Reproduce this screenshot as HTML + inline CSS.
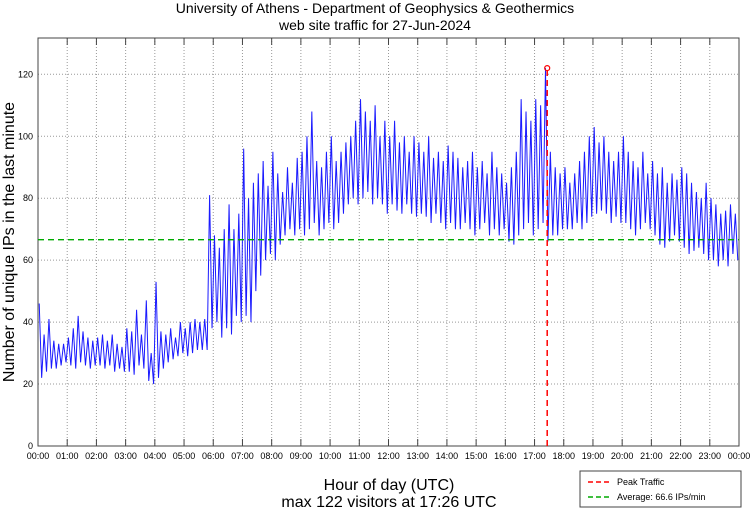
<!DOCTYPE html>
<html><head><meta charset="utf-8"><style>
body{margin:0;background:#fff;}
svg{display:block;font-family:"Liberation Sans",sans-serif;}
</style></head><body>
<svg id="chart" width="750" height="511">
<text x="375" y="13" text-anchor="middle" font-size="14">University of Athens - Department of Geophysics &amp; Geothermics</text>
<text x="375" y="30" text-anchor="middle" font-size="14">web site traffic for 27-Jun-2024</text>
<text transform="translate(14,242) rotate(-90)" text-anchor="middle" font-size="16">Number of unique IPs in the last minute</text>
<text x="389" y="490" text-anchor="middle" font-size="16">Hour of day (UTC)</text>
<text x="389" y="507" text-anchor="middle" font-size="16">max 122 visitors at 17:26 UTC</text>
<g id="grid"></g><g id="plot"></g>
<g>
<rect x="580" y="471" width="161" height="36" fill="#fff" stroke="#444" stroke-width="1"/>
<line x1="588" y1="482" x2="612" y2="482" stroke="#f00" stroke-width="1.5" stroke-dasharray="5,3"/>
<text x="617" y="485" font-size="9">Peak Traffic</text>
<line x1="588" y1="497" x2="612" y2="497" stroke="#0a0" stroke-width="1.5" stroke-dasharray="5,3"/>
<text x="617" y="500" font-size="9">Average: 66.6 IPs/min</text>
</g>
</svg>
<script>
const hiVals=[46,36,41,34,33,33, 35,38,42,37,35,34, 35,36,34,36,33,32, 38,37,44,36,47,30, 53,37,36,38,35,40, 38,40,41,40,41,81,
68,64,70,78,70,75, 96,80,85,88,92,84, 95,88,82,90,85,93, 95,100,108,92,90,95, 100,92,95,98,100,105, 112,108,105,110,100,105,
100,105,98,100,95,100, 98,95,100,93,95,92, 97,95,93,90,92,95, 90,92,88,95,90,88, 85,90,95,112,108,105, 112,110,122,95,90,88,
90,85,88,92,95,100, 103,98,100,95,92,95, 100,95,92,90,95,88, 92,88,90,85,88,86, 90,88,85,82,80,85, 80,78,75,76,78,75];
const loVals=[22,24,25,25,26,27, 26,25,27,26,25,26, 26,25,26,24,25,24, 24,23,26,25,21,20, 22,25,27,28,29,30, 29,30,31,31,31,38,
40,35,38,36,42,40, 42,40,50,55,60,62, 60,65,68,70,68,70, 68,70,72,68,70,72, 70,72,75,78,80,78, 80,82,78,80,78,75,
78,76,75,78,75,74, 75,74,72,75,72,70, 72,70,70,72,70,68, 70,72,68,70,68,70, 66,65,68,70,72,68, 70,72,66,68,68,70,
70,70,72,70,72,74, 75,76,75,72,74,72, 72,70,68,70,72,70, 68,65,64,66,68,66, 64,62,63,64,62,60, 60,58,60,58,62,60];
const yTicks=[0,20,40,60,80,100,120];
const xTickLabels=["00:00","01:00","02:00","03:00","04:00","05:00","06:00","07:00","08:00","09:00","10:00","11:00","12:00","13:00","14:00","15:00","16:00","17:00","18:00","19:00","20:00","21:00","22:00","23:00","00:00"];
const peakMinute=17*60+26, peakValue=122, avgValue=66.6;
const L=38,R=739,T=38,B=446;
const x=m=>L+(R-L)*m/1440;
const y=v=>B-(B-74.3)*v/120;
const NS="http://www.w3.org/2000/svg";
function mk(tag,attrs,parent){const e=document.createElementNS(NS,tag);for(const k in attrs)e.setAttribute(k,attrs[k]);parent.appendChild(e);return e;}
const grid=document.getElementById('grid'),plot=document.getElementById('plot');
yTicks.forEach(v=>{
  if(v>0){const g=mk('line',{x1:L,x2:R,y1:y(v),y2:y(v),stroke:'#999','stroke-dasharray':'1,2'},grid);
  
  }
  const t=mk('text',{x:L-5,y:y(v)+3,'text-anchor':'end','font-size':9},grid);t.textContent=v;
  
  
});
xTickLabels.forEach((lab,i)=>{
  const xx=x(i*60);
  if(i>0&&i<24){const g=mk('line',{x1:xx,x2:xx,y1:T,y2:B,stroke:'#999','stroke-dasharray':'1,2'},grid);
  
  
  mk('line',{x1:xx,x2:xx,y1:T,y2:T+7,stroke:'#444'},grid);mk('line',{x1:xx,x2:xx,y1:B,y2:B-7,stroke:'#444'},grid);}
  const t=mk('text',{x:xx,y:B+13,'text-anchor':'middle','font-size':9},grid);t.textContent=lab;
  
  
});
const frame=mk('rect',{x:L,y:T,width:R-L,height:B-T,fill:'none',stroke:'#444'},grid);


let pts=[];
hiVals.forEach((h,i)=>{pts.push(x(i*10+2.5)+','+y(h));pts.push(x(i*10+7.5)+','+y(loVals[i]));});
const line=mk('polyline',{points:pts.join(' '),fill:'none',stroke:'#1a1aff','stroke-width':1},plot);


const avg=mk('line',{x1:L,x2:R,y1:y(avgValue),y2:y(avgValue),stroke:'#0a0','stroke-width':1.3,'stroke-dasharray':'6,4'},plot);


const pk=mk('line',{x1:x(peakMinute),x2:x(peakMinute),y1:B,y2:y(peakValue),stroke:'#f00','stroke-width':1.5,'stroke-dasharray':'6,4'},plot);


const pm=mk('circle',{cx:x(peakMinute),cy:y(peakValue),r:2.5,fill:'none',stroke:'#f00','stroke-width':1.2},plot);


</script>
</body></html>
